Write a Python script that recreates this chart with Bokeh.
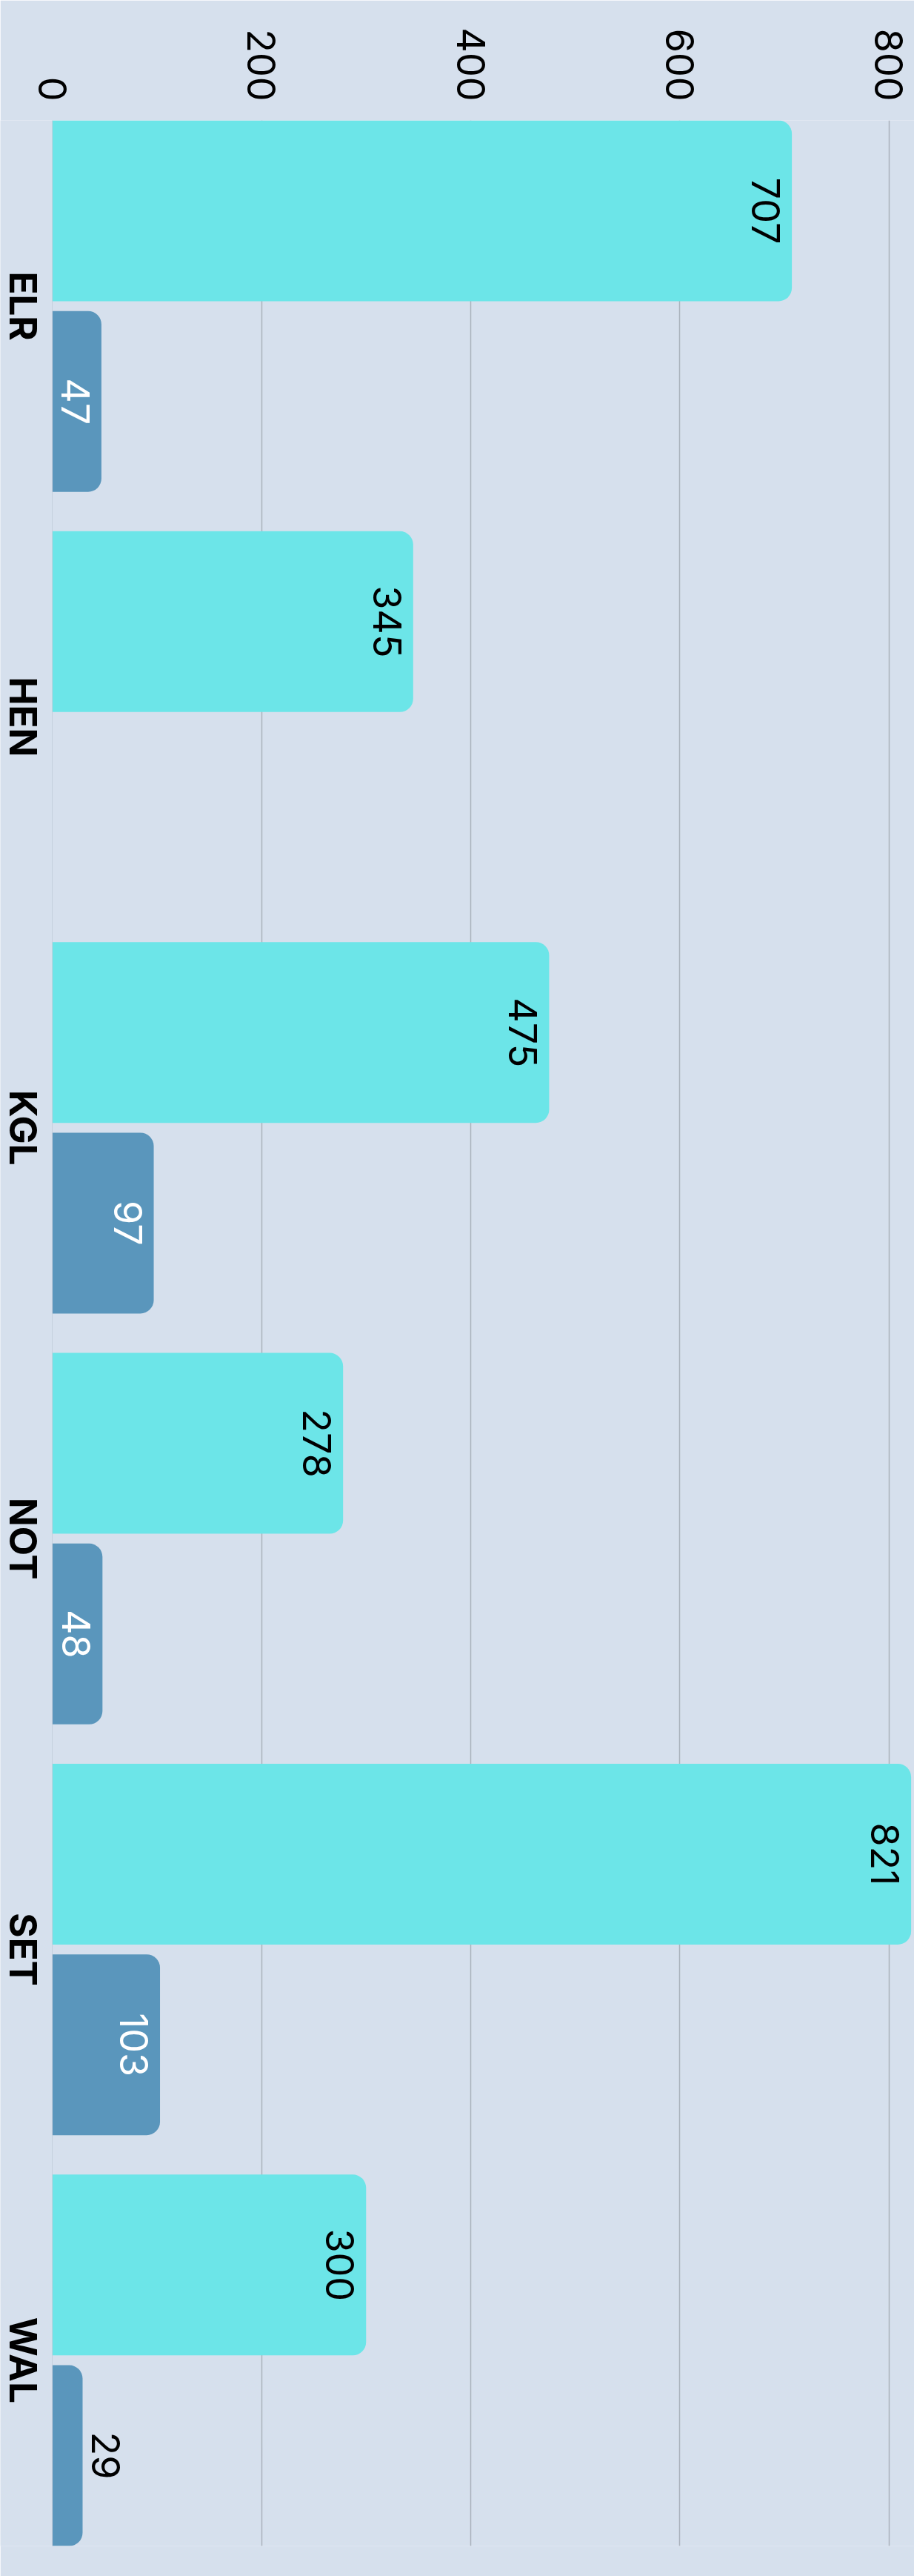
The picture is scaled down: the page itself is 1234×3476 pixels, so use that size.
import math
from bokeh.plotting import figure
from bokeh.models import FactorRange, Range1d, FixedTicker, ColumnDataSource, Span
from bokeh.transform import dodge
from bokeh.core.properties import value
from bokeh.embed import file_html
from bokeh.resources import INLINE

# ---- data ----
categories = ["ELR", "HEN", "KGL", "NOT", "SET", "WAL"]
series_a = [707, 345, 475, 278, 821, 300]
series_b = [47, None, 97, 48, 103, 29]
x_ticks = [0, 200, 400, 600, 800]

# ---- styles ----
BG = "#d6e0ed"
CYAN = "#6ce5e8"
BLUE = "#5a96bc"
GRID = "#aab2bc"
NUM_FONT = "Inter"
CAT_FONT = "Inter"

p = figure(
    width=1234, height=3476,
    y_range=FactorRange(factors=list(reversed(categories)),
                        range_padding=-0.048, range_padding_units="absolute"),
    x_range=Range1d(-49.6, 824.1),
    x_axis_location="above",
    output_backend="svg", toolbar_location=None,
    min_border_left=0, min_border_top=162, min_border_bottom=41, min_border_right=0,
)
p.background_fill_color = BG
p.border_fill_color = BG
p.outline_line_color = None

off = 0.232
bh = 0.44

src_a = ColumnDataSource(dict(
    cat=categories, val=series_a,
    label=[str(v) for v in series_a],
    xoff=[-35 for v in series_a],
    color=["#000000" for v in series_a],
))
rows_b = [(c, v) for c, v in zip(categories, series_b) if v is not None]
src_b = ColumnDataSource(dict(
    cat=[c for c, v in rows_b], val=[v for c, v in rows_b],
    label=[str(v) for c, v in rows_b],
    xoff=[-35 if v >= 40 else 31 for c, v in rows_b],
    color=["#ffffff" if v >= 40 else "#000000" for c, v in rows_b],
))

p.hbar(y=dodge("cat", off, range=p.y_range), left=0, right="val", height=bh,
       source=src_a, fill_color=CYAN, line_color=None, border_radius=(0, 18, 18, 0))
p.hbar(y=dodge("cat", -off, range=p.y_range), left=0, right="val", height=bh,
       source=src_b, fill_color=BLUE, line_color=None, border_radius=(0, 18, 18, 0))

for src, o in ((src_a, off), (src_b, -off)):
    p.text(x="val", y=dodge("cat", o, range=p.y_range), text="label", source=src,
           angle=-math.pi / 2, x_offset="xoff", text_align="center",
           text_baseline="alphabetic", text_font=value(NUM_FONT),
           text_font_size="52px", text_color="color")

# value axis (top)
xa = p.xaxis[0]
xa.ticker = FixedTicker(ticks=x_ticks)
xa.major_label_orientation = -math.pi / 2
xa.major_label_text_font = NUM_FONT
xa.major_label_text_font_size = "52px"
xa.major_label_text_color = "#000000"
xa.major_label_standoff = 26
xa.major_tick_line_color = None
xa.minor_tick_line_color = None
xa.major_tick_out = 0
xa.major_tick_in = 0
xa.axis_line_color = None

# category axis: labels rotated (reading downward), centred on each category
p.yaxis.visible = False
p.add_layout(Span(location=0, dimension="height", line_color="#c5cfdc", line_width=1))
cat_src = ColumnDataSource(dict(cat=categories, zero=[0] * len(categories)))
p.text(x="zero", y="cat", text="cat", source=cat_src,
       angle=-math.pi / 2, x_offset=-39, text_align="center",
       text_baseline="alphabetic", text_font=value(CAT_FONT),
       text_font_style="bold", text_font_size="51px", text_color="#000000")

p.ygrid.grid_line_color = None
p.xgrid.ticker = FixedTicker(ticks=[200, 400, 600, 800])
p.xgrid.grid_line_color = GRID
p.xgrid.grid_line_width = 1.5

open("out.html", "w").write(file_html(p, INLINE))
